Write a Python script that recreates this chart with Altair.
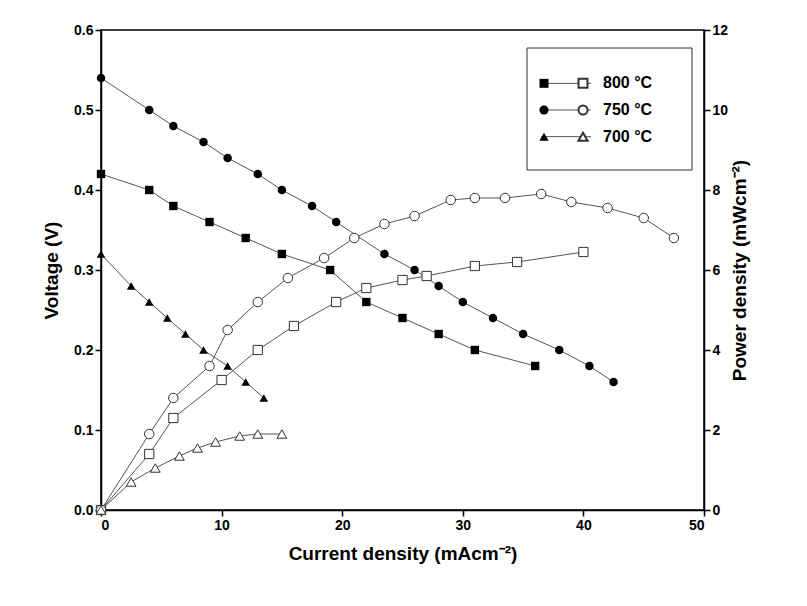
import altair as alt
import pandas as pd

temps = ["800 °C", "750 °C", "700 °C"]

v800_x = [0, 4, 6, 9, 12, 15, 19, 22, 25, 28, 31, 36]
v800_y = [0.42, 0.40, 0.38, 0.36, 0.34, 0.32, 0.30, 0.26, 0.24, 0.22, 0.20, 0.18]
v750_x = [0, 4, 6, 8.5, 10.5, 13, 15, 17.5, 19.5, 23.5, 26, 28, 30, 32.5, 35, 38, 40.5, 42.5]
v750_y = [0.54, 0.50, 0.48, 0.46, 0.44, 0.42, 0.40, 0.38, 0.36, 0.32, 0.30, 0.28, 0.26, 0.24, 0.22, 0.20, 0.18, 0.16]
v700_x = [0, 2.5, 4, 5.5, 7, 8.5, 10.5, 12, 13.5]
v700_y = [0.32, 0.28, 0.26, 0.24, 0.22, 0.20, 0.18, 0.16, 0.14]

p800_x = [0, 4, 6, 10, 13, 16, 19.5, 22, 25, 27, 31, 34.5, 40]
p800_y = [0, 1.4, 2.3, 3.25, 4.0, 4.6, 5.2, 5.55, 5.75, 5.85, 6.1, 6.2, 6.45]
p750_x = [0, 4, 6, 9, 10.5, 13, 15.5, 18.5, 21, 23.5, 26, 29, 31, 33.5, 36.5, 39, 42, 45, 47.5]
p750_y = [0, 1.9, 2.8, 3.6, 4.5, 5.2, 5.8, 6.3, 6.8, 7.15, 7.35, 7.75, 7.8, 7.8, 7.9, 7.7, 7.55, 7.3, 6.8]
p700_x = [0, 2.5, 4.5, 6.5, 8, 9.5, 11.5, 13, 15]
p700_y = [0, 0.7, 1.05, 1.35, 1.55, 1.7, 1.85, 1.9, 1.9]


def frame(xs, ys, t):
    return pd.DataFrame({"x": xs, "y": ys, "T": t})


volt = pd.concat([frame(v800_x, v800_y, temps[0]), frame(v750_x, v750_y, temps[1]),
                  frame(v700_x, v700_y, temps[2])])
power = pd.concat([frame(p800_x, p800_y, temps[0]), frame(p750_x, p750_y, temps[1]),
                   frame(p700_x, p700_y, temps[2])])

font = "Liberation Sans"
shapes = alt.Scale(domain=temps, range=["square", "circle", "triangle-up"])
xenc = alt.X("x:Q", title="Current density (mAcm⁻²)", scale=alt.Scale(domain=[0, 50]),
             axis=alt.Axis(values=list(range(0, 51, 10)), grid=False, tickSize=6))

vy = alt.Y("y:Q", title="Voltage (V)", scale=alt.Scale(domain=[0, 0.6]),
           axis=alt.Axis(values=[i / 10 for i in range(7)], format=".1f", grid=False, tickSize=6))
py = alt.Y("y:Q", title="Power density (mWcm⁻²)", scale=alt.Scale(domain=[0, 12]),
           axis=alt.Axis(orient="right", values=list(range(0, 13, 2)), grid=False, tickSize=6,
                         titleAngle=270, titlePadding=22))

vbase = alt.Chart(volt).encode(x=xenc, y=vy, detail="T:N")
vline = vbase.mark_line(color="#555", strokeWidth=1)
vpts = vbase.mark_point(filled=True, color="black", opacity=1).encode(
    shape=alt.Shape("T:N", scale=shapes, legend=None),
    size=alt.Size("T:N", scale=alt.Scale(domain=temps, range=[70, 75, 170]), legend=None))

pbase = alt.Chart(power).encode(x=xenc, y=py, detail="T:N")
pline = pbase.mark_line(color="#555", strokeWidth=1)
ppts = pbase.mark_point(filled=True, fill="white", stroke="#333", strokeWidth=1, opacity=1).encode(
    shape=alt.Shape("T:N", scale=shapes, legend=None),
    size=alt.Size("T:N", scale=alt.Scale(domain=temps, range=[85, 95, 190]), legend=None))

# legend box
leg = pd.DataFrame({"T": temps, "row": [0, 1, 2]})
lbase = alt.Chart(leg).encode(y=alt.Y("row:O", axis=None, scale=alt.Scale(range=[40, 120])))
box = alt.Chart(leg).mark_rect(fill="white", stroke="#333", strokeWidth=1).encode(
    x=alt.value(426), x2=alt.value(591), y=alt.value(18), y2=alt.value(140)).transform_filter("datum.row == 0")
lline = lbase.mark_rule(color="#555").encode(x=alt.value(440), x2=alt.value(490))
lf = lbase.mark_point(filled=True, color="black", opacity=1).encode(
    x=alt.value(443), shape=alt.Shape("T:N", scale=shapes, legend=None),
    size=alt.Size("T:N", scale=alt.Scale(domain=temps, range=[80, 85, 170]), legend=None))
lo = lbase.mark_point(filled=True, fill="white", stroke="#333", opacity=1).encode(
    x=alt.value(482), shape=alt.Shape("T:N", scale=shapes, legend=None),
    size=alt.Size("T:N", scale=alt.Scale(domain=temps, range=[95, 100, 190]), legend=None))
ltxt = lbase.mark_text(align="left", font=font, fontSize=16, fontWeight="bold").encode(
    x=alt.value(502), text="T:N")
legend = alt.layer(box, lline, lf, lo, ltxt)

chart = alt.layer(
    alt.layer(vline, vpts), alt.layer(pline, ppts), legend
).resolve_scale(y="independent", shape="shared", size="independent").properties(
    width=603, height=480, autosize=alt.AutoSizeParams(type="none"),
    padding={"left": 93, "top": 22, "right": 90, "bottom": 80}
).configure_view(stroke="black", strokeWidth=1.5).configure_axis(
    labelFont=font, titleFont=font, labelFontSize=14, titleFontSize=19, labelFontWeight="bold",
    titleFontWeight="bold", labelColor="black", titleColor="black", domainColor="black",
    tickColor="black", domainWidth=1.5, tickWidth=1.5, titlePadding=12
)

chart.save("out.html", embed_options={"renderer": "svg", "actions": False})
